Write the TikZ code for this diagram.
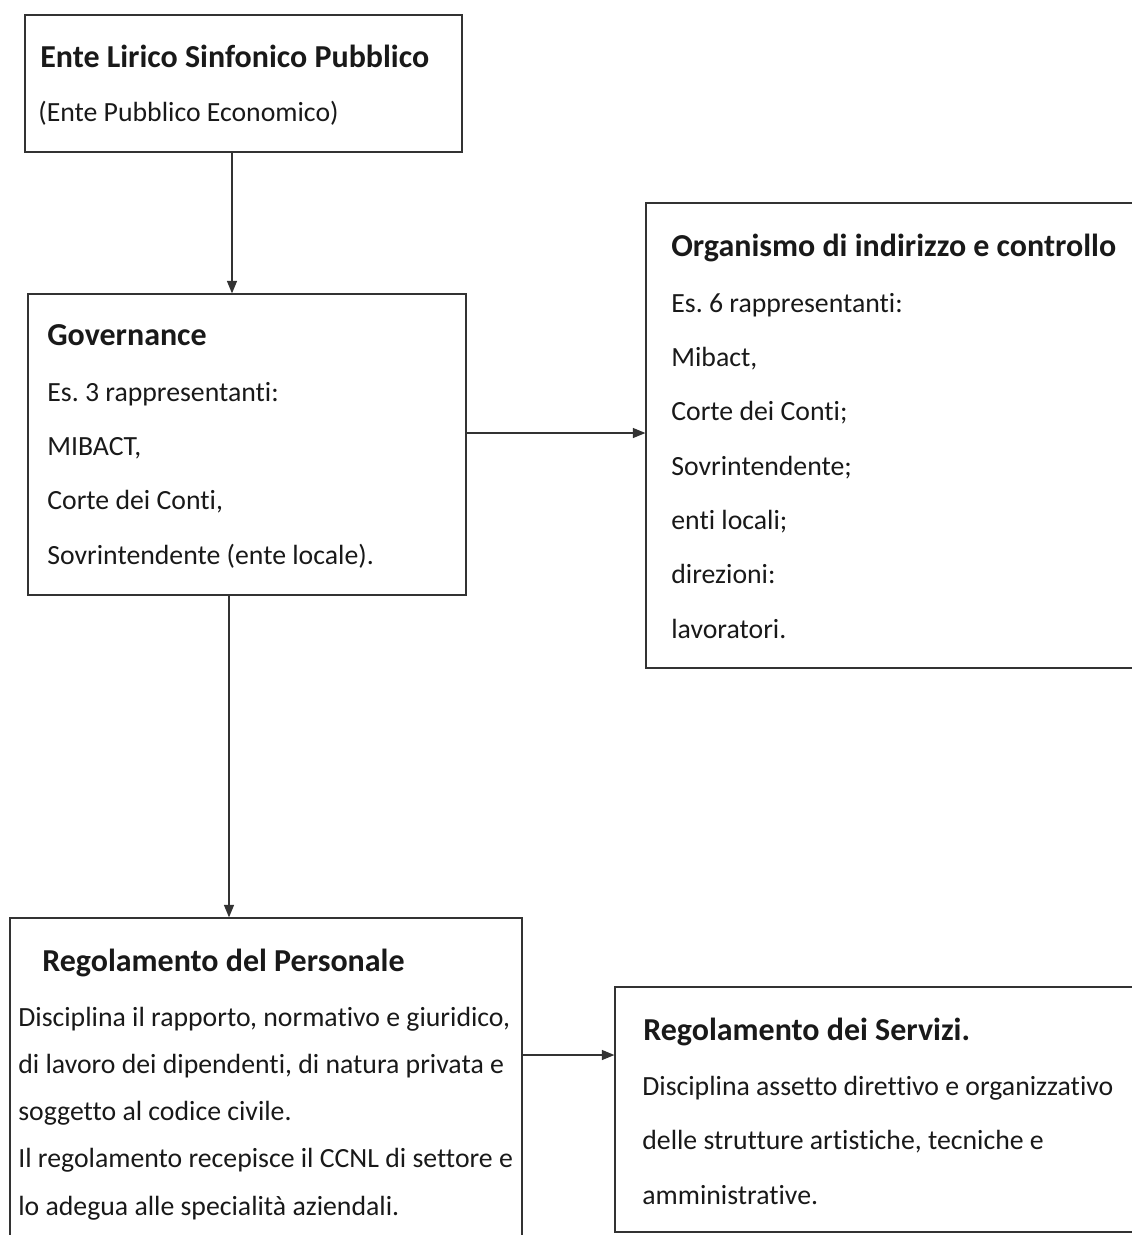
\documentclass[tikz,border=0pt]{standalone}
\usepackage{fontspec}
\setmainfont{Carlito}[Ligatures=NoCommon]
\frenchspacing
\usetikzlibrary{positioning,arrows.meta,fit}

\begin{document}
\begin{tikzpicture}[
    x=0.02cm, y=-0.02cm,
    >={Triangle[length=2.5mm,width=2mm]},
    box/.style   = {rectangle, draw=black!80, line width=0.7pt, inner sep=0pt},
    title/.style = {anchor=base west, inner sep=0pt, text=black!90,
                    font=\fontsize{18.2}{21}\selectfont\bfseries},
    body/.style  = {anchor=base west, inner sep=0pt, align=left, text=black!90,
                    font=\fontsize{15.8}{30.8}\selectfont},
    flow/.style  = {->, draw=black!80, line width=0.7pt}
]
\clip (0,0) rectangle (1132,1235);

% --- Boxes --------------------------------------------------------------------
\node[box, fit={(25,15) (462,152)}]     (ente) {};
\node[box, fit={(28,294) (466,595)}]    (gov) {};
\node[box, fit={(646,203) (1160,668)}]  (org) {};
\node[box, fit={(10,918) (522,1260)}]   (regpers) {};
\node[box, fit={(615,987) (1160,1232)}] (regserv) {};

% --- Texts (body nodes sit on the baseline of their last line) -----------------
\node[title] (ente-t) at (40,67)  {Ente Lirico Sinfonico Pubblico};
\node[body]  (ente-b) at (38,121) {(Ente Pubblico Economico)};

\node[title] (gov-t) at (47,345) {Governance};
\node[body]  (gov-b) at (47,564)
  {Es. 3 rappresentanti:\\
   MIBACT,\\
   Corte dei Conti,\\
   Sovrintendente (ente locale).};

\node[title] (org-t) at (671,256) {Organismo di indirizzo e controllo};
\node[body, font=\fontsize{15.8}{30.9}\selectfont] (org-b) at (671,638)
  {Es. 6 rappresentanti:\\
   Mibact,\\
   Corte dei Conti;\\
   Sovrintendente;\\
   enti locali;\\
   direzioni:\\
   lavoratori.};

\node[title] (regpers-t) at (42,971) {Regolamento del Personale};
\node[body, font=\fontsize{15.8}{26.8}\selectfont] (regpers-b) at (18,1215)
  {Disciplina il rapporto, normativo e giuridico,\\
   di lavoro dei dipendenti, di natura privata e\\
   soggetto al codice civile.\\
   Il regolamento recepisce il CCNL di settore e\\
   lo adegua alle specialità aziendali.};

\node[title] (regserv-t) at (643,1040) {Regolamento dei Servizi.};
\node[body]  (regserv-b) at (642,1204)
  {Disciplina assetto direttivo e organizzativo\\
   delle strutture artistiche, tecniche e\\
   amministrative.};

% --- Flows --------------------------------------------------------------------
\draw[flow] (ente.south -| 232,0) -- (gov.north -| 232,0);
\draw[flow] (gov.east |- 0,433)   -- (org.west |- 0,433);
\draw[flow] (gov.south -| 229,0)  -- (regpers.north -| 229,0);
\draw[flow] (regpers.east |- 0,1055) -- (regserv.west |- 0,1055);

\end{tikzpicture}
\end{document}
